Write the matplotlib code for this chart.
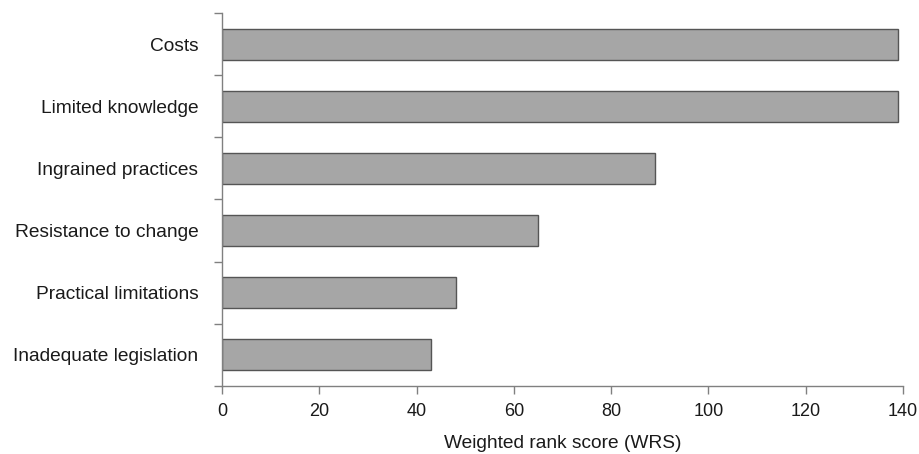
import numpy as np
import matplotlib.pyplot as plt

plt.rcParams['font.family'] = ['Liberation Sans', 'DejaVu Sans']

barriers = ["Costs", "Limited knowledge", "Ingrained practices",
            "Resistance to change", "Practical limitations", "Inadequate legislation"]
wrs = [139, 139, 89, 65, 48, 43]
xticks = [0, 20, 40, 60, 80, 100, 120, 140]

fig = plt.figure(figsize=(9.19, 4.54), dpi=100)
ax = fig.add_axes([0.2416, 0.1498, 0.741, 0.8216])

ypos = np.arange(len(barriers))
ax.barh(ypos, wrs, height=0.5, color="#a6a6a6", edgecolor="#555555", linewidth=1.0)

ax.set_ylim(len(barriers) - 0.5, -0.5)
ax.set_xlim(0, 140)

ax.set_yticks(ypos)
ax.set_yticklabels(barriers, fontsize=13.8, color="#1a1a1a")
ax.tick_params(axis="y", which="major", length=0, pad=17)
ax.set_yticks(np.arange(-0.5, len(barriers)), minor=True)
ax.tick_params(axis="y", which="minor", length=6, width=1, color="#808080")

ax.set_xticks(xticks)
ax.set_xticklabels([str(v) for v in xticks], fontsize=13, color="#1a1a1a")
ax.tick_params(axis="x", length=6, width=1, color="#808080", pad=6)
ax.set_xlabel("Weighted rank score (WRS)", fontsize=13.8, color="#1a1a1a", labelpad=11)

for s in ["top", "right"]:
    ax.spines[s].set_visible(False)
for s in ["left", "bottom"]:
    ax.spines[s].set_color("#808080")
    ax.spines[s].set_linewidth(1)

fig.savefig("out.png", dpi=100)
